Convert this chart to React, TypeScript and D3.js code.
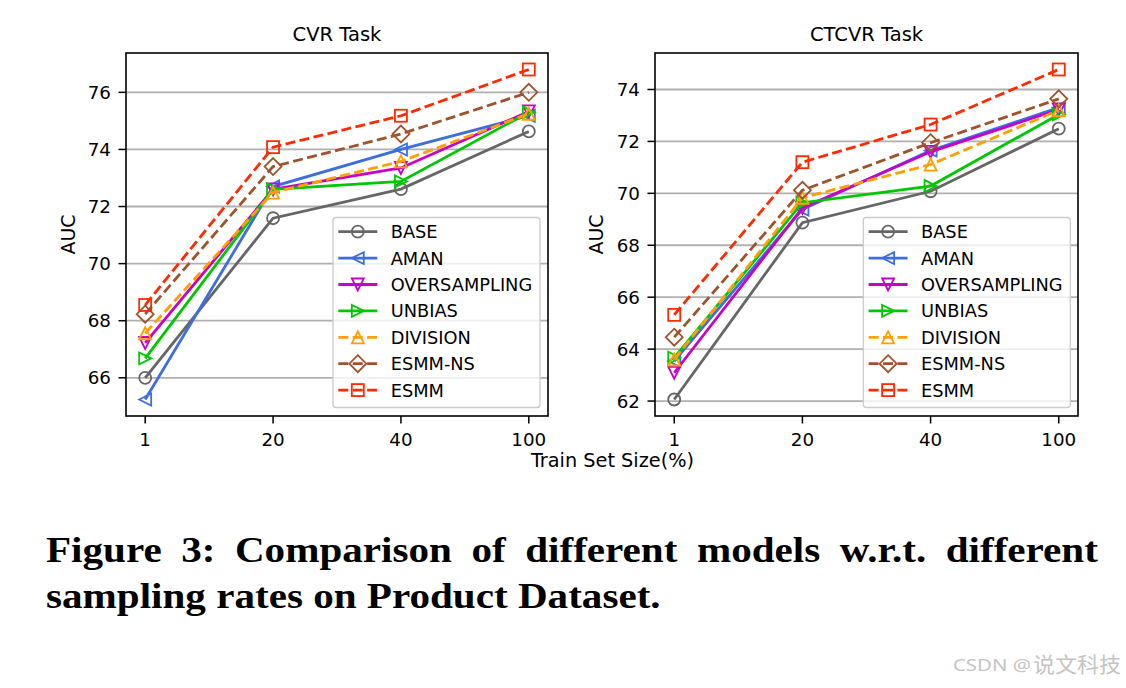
import React, { useMemo } from 'react';
import * as d3 from 'd3';

// ---------- data ----------
const categories = ['1', '20', '40', '100'];
const seriesNames = ['BASE', 'AMAN', 'OVERSAMPLING', 'UNBIAS', 'DIVISION', 'ESMM-NS', 'ESMM'];
const seriesColors = ['#666666', '#3c6ee0', '#c800c8', '#00c800', '#ffa000', '#a0522d', '#ff2a00'];
const seriesMarkers = ['circle', 'triLeft', 'triDown', 'triRight', 'triUp', 'diamond', 'square'];
const seriesDashed = [false, false, false, false, true, true, true];

const cvrBASE = [66.0, 71.59, 72.61, 74.63];
const cvrAMAN = [65.24, 72.7, 74.0, 75.18];
const cvrOVERSAMPLING = [67.22, 72.6, 73.35, 75.33];
const cvrUNBIAS = [66.68, 72.6, 72.88, 75.3];
const cvrDIVISION = [67.56, 72.49, 73.58, 75.25];
const cvrESMMNS = [68.23, 73.4, 74.54, 76.0];
const cvrESMM = [68.55, 74.08, 75.18, 76.8];

const ctcvrBASE = [62.06, 68.87, 70.08, 72.49];
const ctcvrAMAN = [63.54, 69.38, 71.65, 73.3];
const ctcvrOVERSAMPLING = [63.09, 69.44, 71.6, 73.23];
const ctcvrUNBIAS = [63.67, 69.64, 70.28, 73.04];
const ctcvrDIVISION = [63.6, 69.83, 71.11, 73.2];
const ctcvrESMMNS = [64.46, 70.12, 71.95, 73.64];
const ctcvrESMM = [65.32, 71.2, 72.65, 74.77];

const cvrTicks = [66, 68, 70, 72, 74, 76];
const ctcvrTicks = [62, 64, 66, 68, 70, 72, 74];

const titles = ['CVR Task', 'CTCVR Task'];
const xLabel = 'Train Set Size(%)';
const yLabel = 'AUC';
const captionLine1 = 'Figure 3: Comparison of different models w.r.t. different';
const captionLine2 = 'sampling rates on Product Dataset.';

const cvrSeries = [cvrBASE, cvrAMAN, cvrOVERSAMPLING, cvrUNBIAS, cvrDIVISION, cvrESMMNS, cvrESMM];
const ctcvrSeries = [ctcvrBASE, ctcvrAMAN, ctcvrOVERSAMPLING, ctcvrUNBIAS, ctcvrDIVISION, ctcvrESMMNS, ctcvrESMM];

// ---------- layout ----------
const W = 1126;
const H = 688;
const FONT = "'DejaVu Sans', sans-serif";
const M = 12; // marker size
const LW = 2.8;
const DASH = '10,4.4';
const panels = [
  { x0: 126, x1: 548, series: cvrSeries, ticks: cvrTicks, title: titles[0], ylabX: 68, legendX: 333 },
  { x0: 655, x1: 1078, series: ctcvrSeries, ticks: ctcvrTicks, title: titles[1], ylabX: 596, legendX: 863.3 },
];
const Y0 = 53;
const Y1 = 416;

function Marker({ shape, x, y, color }: { shape: string; x: number; y: number; color: string }) {
  const h = M / 2;
  const common = { fill: 'none', stroke: color, strokeWidth: 1.8 };
  if (shape === 'circle') return <circle cx={x} cy={y} r={h} {...common} />;
  if (shape === 'square') return <rect x={x - h} y={y - h} width={M} height={M} {...common} />;
  let pts: [number, number][] = [];
  const d = M / Math.SQRT2;
  if (shape === 'triUp') pts = [[0, -h], [-h, h], [h, h]];
  if (shape === 'triDown') pts = [[0, h], [-h, -h], [h, -h]];
  if (shape === 'triLeft') pts = [[-h, 0], [h, -h], [h, h]];
  if (shape === 'triRight') pts = [[h, 0], [-h, -h], [-h, h]];
  if (shape === 'diamond') pts = [[0, -d], [d, 0], [0, d], [-d, 0]];
  const p = 'M' + pts.map(([a, b]) => `${x + a},${y + b}`).join('L') + 'Z';
  return <path d={p} {...common} strokeLinejoin="miter" />;
}

function Panel({ p }: { p: (typeof panels)[number] }) {
  const x = d3.scalePoint<string>().domain(categories).range([p.x0, p.x1]).padding(0.15);
  const all = p.series.flat();
  const [mn, mx] = d3.extent(all) as [number, number];
  const pad = (mx - mn) * 0.05;
  const y = d3.scaleLinear().domain([mn - pad, mx + pad]).range([Y1, Y0]);
  const line = d3
    .line<number>()
    .x((_, i) => x(categories[i]) as number)
    .y((v) => y(v));
  const cx = (p.x0 + p.x1) / 2;
  const lx = p.legendX;
  const rowY0 = 231.7;
  const rowDy = 26.4;
  return (
    <g>
      <text x={cx} y={41} textAnchor="middle" fontSize={19.5} fontFamily={FONT}>
        {p.title}
      </text>
      {p.ticks.map((t) => (
        <line key={'g' + t} x1={p.x0} x2={p.x1} y1={y(t)} y2={y(t)} stroke="#b0b0b0" strokeWidth={1.8} />
      ))}
      {p.series.map((vals, si) => (
        <g key={seriesNames[si]}>
          <path
            d={line(vals) || ''}
            fill="none"
            stroke={seriesColors[si]}
            strokeWidth={LW}
            strokeDasharray={seriesDashed[si] ? DASH : undefined}
          />
          {vals.map((v, i) => (
            <Marker key={i} shape={seriesMarkers[si]} x={x(categories[i]) as number} y={y(v)} color={seriesColors[si]} />
          ))}
        </g>
      ))}
      {/* legend */}
      <rect x={lx} y={217.5} width={207} height={190} rx={3} fill="white" fillOpacity={0.8} stroke="#cccccc" strokeWidth={1.3} />
      {seriesNames.map((n, si) => {
        const ry = rowY0 + si * rowDy;
        return (
          <g key={'l' + n}>
            <line
              x1={lx + 5.3}
              x2={lx + 44.3}
              y1={ry}
              y2={ry}
              stroke={seriesColors[si]}
              strokeWidth={LW}
              strokeDasharray={seriesDashed[si] ? DASH : undefined}
            />
            <Marker shape={seriesMarkers[si]} x={lx + 24.8} y={ry} color={seriesColors[si]} />
            <text x={lx + 57.7} y={ry} dy="0.36em" fontSize={17.8} fontFamily={FONT}>
              {n}
            </text>
          </g>
        );
      })}
      {/* spines */}
      <rect x={p.x0} y={Y0} width={p.x1 - p.x0} height={Y1 - Y0} fill="none" stroke="black" strokeWidth={1.6} />
      {/* y ticks */}
      {p.ticks.map((t) => (
        <g key={'yt' + t}>
          <line x1={p.x0 - 7.5} x2={p.x0} y1={y(t)} y2={y(t)} stroke="black" strokeWidth={1.5} />
          <text x={p.x0 - 15} y={y(t)} dy="0.36em" textAnchor="end" fontSize={18.3} fontFamily={FONT}>
            {t}
          </text>
        </g>
      ))}
      {/* x ticks */}
      {categories.map((c) => (
        <g key={'xt' + c}>
          <line x1={x(c)} x2={x(c)} y1={Y1} y2={Y1 + 7.5} stroke="black" strokeWidth={1.5} />
          <text x={x(c)} y={446} textAnchor="middle" fontSize={18.3} fontFamily={FONT}>
            {c}
          </text>
        </g>
      ))}
      <text
        transform={`translate(${p.ylabX + 7},${(Y0 + Y1) / 2}) rotate(-90)`}
        textAnchor="middle"
        fontSize={19}
        fontFamily={FONT}
      >
        {yLabel}
      </text>
    </g>
  );
}

const CAP_FONT = "bold 36px 'Liberation Serif'";

function Caption() {
  const layout = useMemo(() => {
    const ctx = document.createElement('canvas').getContext('2d')!;
    ctx.font = CAP_FONT;
    const w2 = ctx.measureText(captionLine2).width;
    const sx = 615 / w2;
    const words = captionLine1.split(' ');
    const ws = words.map((w) => ctx.measureText(w).width);
    const total = ws.reduce((a, b) => a + b, 0);
    const gap = (1052 / sx - total) / (words.length - 1);
    let acc = 0;
    const xs = ws.map((w) => {
      const v = acc;
      acc += w + gap;
      return v;
    });
    return { sx, words, xs };
  }, []);
  return (
    <g fontFamily="'Liberation Serif', serif" fontWeight="bold" fontSize={36}>
      <g transform={`translate(46,561.7) scale(${layout.sx},1)`}>
        {layout.words.map((w, i) => (
          <text key={i} x={layout.xs[i]} y={0}>
            {w}
          </text>
        ))}
      </g>
      <g transform={`translate(46,608.3) scale(${layout.sx},1)`}>
        <text x={0} y={0}>
          {captionLine2}
        </text>
      </g>
    </g>
  );
}

export default function App() {
  return (
    <svg
      width={W}
      height={H}
      style={{ position: 'absolute', left: 0, top: 0, display: 'block', background: 'white' }}
    >
      <rect width={W} height={H} fill="white" />
      {panels.map((p, i) => (
        <Panel key={i} p={p} />
      ))}
      <text x={612.5} y={467} textAnchor="middle" fontSize={19.3} fontFamily={FONT}>
        {xLabel}
      </text>
      <Caption />
      <text x={953} y={670.7} fontSize={17} fontFamily="'Noto Sans', sans-serif" fill="#c4c4c4" textLength={78} lengthAdjust="spacingAndGlyphs">
        CSDN @
      </text>
      <text x={1033} y={672} fontSize={21} fontFamily="'Noto Sans CJK SC', sans-serif" fill="#c4c4c4" textLength={88} lengthAdjust="spacingAndGlyphs">
        说文科技
      </text>
    </svg>
  );
}
